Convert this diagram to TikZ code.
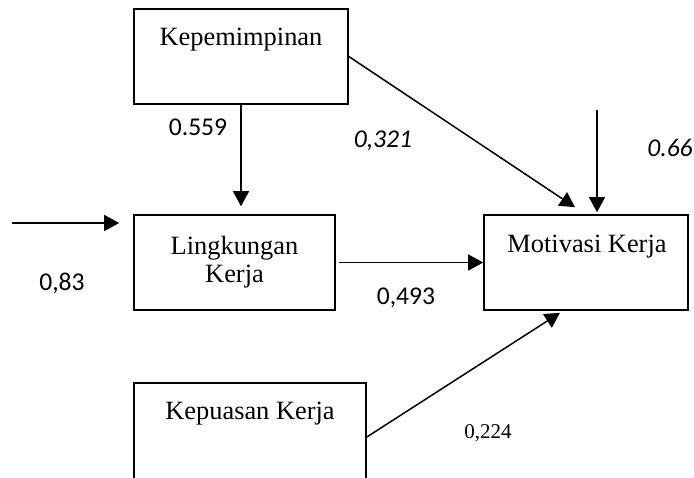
\documentclass[tikz,border=0pt]{standalone}
\usepackage{fontspec}
\setmainfont{Liberation Serif}
\newfontfamily\labelfont{Carlito}
\usetikzlibrary{arrows.meta}
\tikzset{box/.style={draw, line width=0.8pt, rectangle, minimum size=0mm, inner sep=0mm}}
\tikzset{boxtext/.style={draw=none, fill=none, inner sep=0mm, anchor=base, font=\fontsize{13.2}{14}\selectfont}}
\tikzset{arr/.style={line width=0.75pt, -{Triangle[length=7.5pt, width=8pt]}}}
\tikzset{coef/.style={draw=none, fill=none, inner sep=0mm, font=\labelfont\fontsize{12.8}{15}\selectfont}}
\tikzset{coefit/.style={coef, font=\labelfont\itshape\fontsize{12.8}{15}\selectfont}}

\begin{document}
\begin{tikzpicture}[x=0.5pt, y=-0.5pt]
  \clip (0,0) rectangle (694,477);
  \useasboundingbox (0,0) rectangle (694,477);

  \node (kep) [box, minimum width=107pt, minimum height=47.5pt] at (241, 56.5) {};
  \node (ling) [box, minimum width=100.5pt, minimum height=47.5pt, align=center, font=\fontsize{13.2}{14}\selectfont] at (234.5, 262.5) {Lingkungan\\Kerja};
  \node (mot) [box, minimum width=102pt, minimum height=47.5pt] at (586, 262.5) {};
  \node (kepu) [box, minimum width=116pt, minimum height=54pt] at (250, 437) {};

  \node (kepT) [boxtext] at (241, 45) {Kepemimpinan};
  \node (motT) [boxtext] at (587, 252) {Motivasi Kerja};
  \node (kepuT) [boxtext] at (250, 419) {Kepuasan Kerja};

  \coordinate (e1) at (12, 223);
  \coordinate (e2) at (597, 110);

  \draw (kep.south) edge[arr, shorten >=4pt] (kep.south |- ling.north);
  \draw (e1) edge[arr, shorten >=7pt] (e1 -| ling.west);
  \draw (ling.east) edge[arr, shorten <=1.5pt] (mot.west);
  \draw (kep.east) edge[arr] ([xshift=-5.5pt, yshift=3.5pt]mot.north);
  \draw (e2) edge[arr, shorten >=1pt] (e2 |- mot.north);
  \draw (kepu.east) edge[arr] ([xshift=-13pt, yshift=-1pt]mot.south);

  \node (c1) [coef] at (198, 127) {0.559};
  \node (c2) [coefit] at (383, 141) {0,321};
  \node (c3) [coefit] at (670, 148) {0.66};
  \node (c4) [coef] at (62, 283) {0,83};
  \node (c5) [coef] at (406, 298) {0,493};
  \node (c6) [coef, font=\fontsize{10.5}{12}\selectfont] at (488, 433) {0,224};
\end{tikzpicture}
\end{document}
